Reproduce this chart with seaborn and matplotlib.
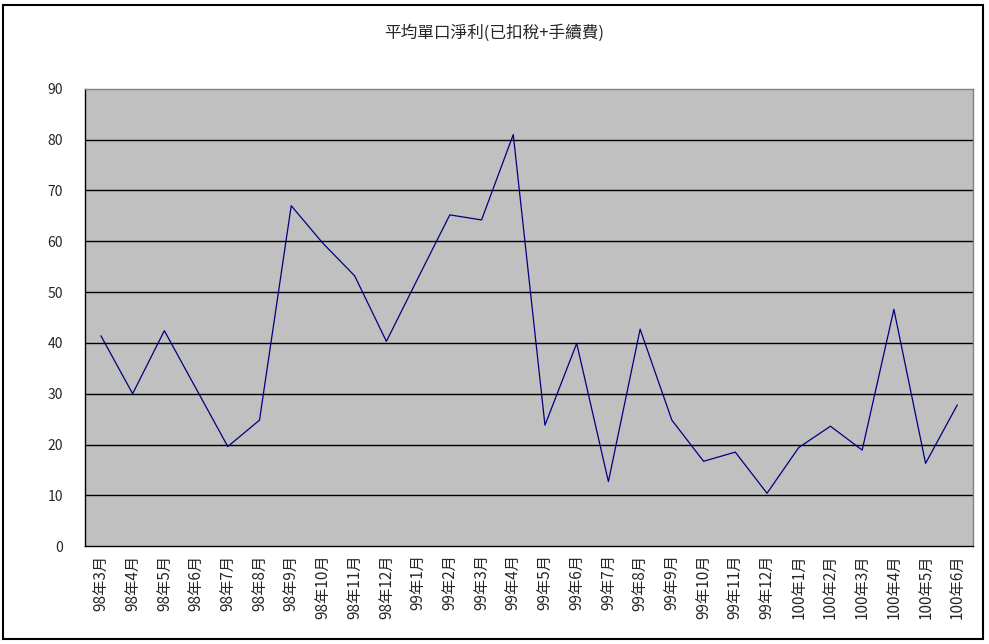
import pandas as pd
import matplotlib
matplotlib.use("Agg")
import matplotlib.pyplot as plt
import seaborn as sns

# months (民國年) and average net profit per contract
months = ["98年3月", "98年4月", "98年5月", "98年6月", "98年7月", "98年8月", "98年9月",
          "98年10月", "98年11月", "98年12月", "99年1月", "99年2月", "99年3月", "99年4月",
          "99年5月", "99年6月", "99年7月", "99年8月", "99年9月", "99年10月", "99年11月",
          "99年12月", "100年1月", "100年2月", "100年3月", "100年4月", "100年5月", "100年6月"]
profit = [41.4, 30.0, 42.4, 31.0, 19.6, 24.8, 67.0, 59.6, 53.2, 40.3, 52.8, 65.2, 64.2, 81.0,
          23.8, 39.9, 12.7, 42.7, 24.8, 16.7, 18.5, 10.4, 19.4, 23.6, 18.9, 46.6, 16.3, 27.8]
y_ticks = [0, 10, 20, 30, 40, 50, 60, 70, 80, 90]

df = pd.DataFrame({"month": months, "profit": profit})
df["pos"] = range(len(df))

sns.set_style("white")
plt.rcParams['font.family'] = ['Noto Sans CJK TC', 'DejaVu Sans']

fig = plt.figure(figsize=(9.89, 6.44), dpi=100)
ax = fig.add_axes([0.086, 0.152, 0.898, 0.710])
ax.set_facecolor("#C0C0C0")

sns.lineplot(data=df, x="pos", y="profit", sort=False, color="#000080", linewidth=0.9, ax=ax)

ax.set_xlim(-0.5, len(months) - 0.5)
ax.set_ylim(0, 90)
ax.set_yticks(y_ticks)
ax.set_yticklabels([str(v) for v in y_ticks], fontsize=10)
for v in y_ticks[1:-1]:
    ax.axhline(v, color="black", linewidth=1.0, zorder=1)

ax.set_xticks(df["pos"])
ax.set_xticklabels(months, rotation=90, fontsize=11, va="top")
ax.tick_params(axis="x", which="major", length=0, pad=6)
ax.set_xticks([i + 0.5 for i in range(len(months) - 1)], minor=True)
ax.tick_params(axis="x", which="minor", direction="in", length=5, width=0.8, color="black")
ax.tick_params(axis="y", direction="out", length=4, width=0.8, color="black", pad=12)
ax.set_xlabel("")
ax.set_ylabel("")

for side in ["top", "right"]:
    ax.spines[side].set_color("#808080")
    ax.spines[side].set_linewidth(1.0)
for side in ["left", "bottom"]:
    ax.spines[side].set_color("black")
    ax.spines[side].set_linewidth(1.0)

fig.text(0.5, 0.949, "平均單口淨利(已扣稅+手續費)", ha="center", va="center", fontsize=12)
fig.add_artist(plt.Rectangle((0.003, 0.008), 0.991, 0.984, transform=fig.transFigure,
                             fill=False, edgecolor="black", linewidth=1.5))

fig.savefig("out.png", dpi=100, facecolor="white")
